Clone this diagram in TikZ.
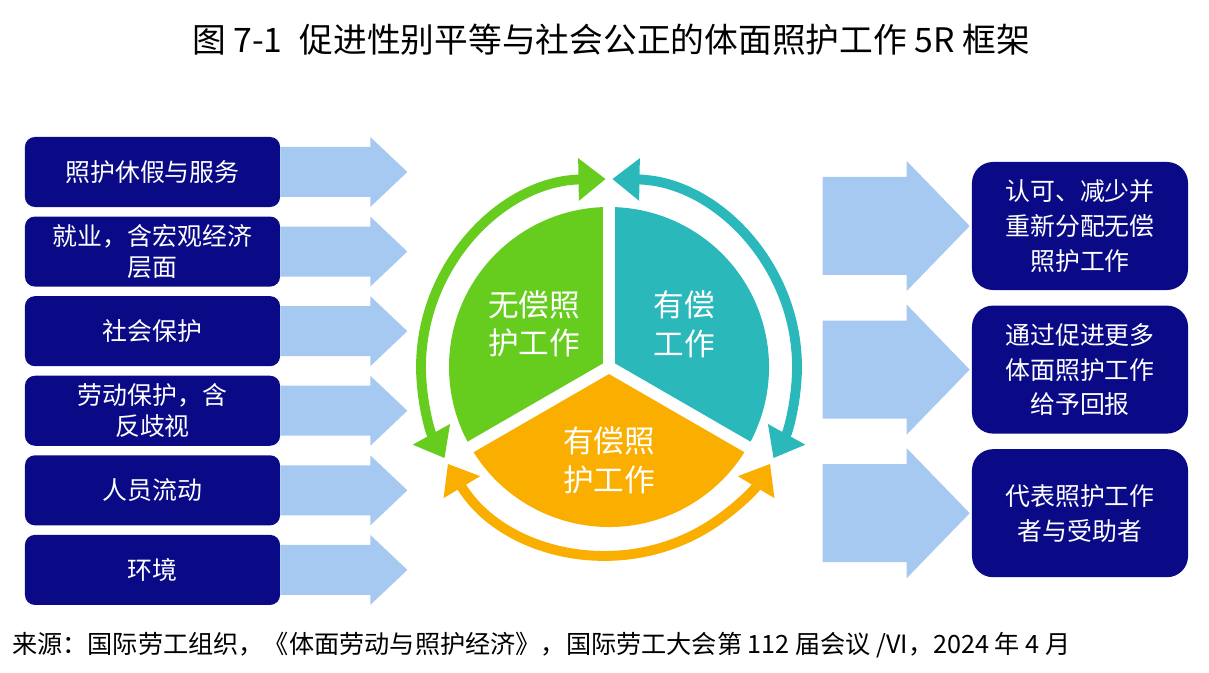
\documentclass[tikz,border=0pt]{standalone}
\usepackage{fontspec}
\setmainfont{Noto Sans CJK SC}
\usetikzlibrary{arrows.meta,positioning,calc}
\definecolor{frNavy}{RGB}{10,10,135}
\definecolor{frFlow}{RGB}{166,201,242}
\definecolor{frGreen}{RGB}{102,204,30}
\definecolor{frTeal}{RGB}{43,184,186}
\definecolor{frOrange}{RGB}{249,174,0}

\begin{document}
\begin{tikzpicture}[x=0.025cm,y=0.025cm,
    lbox/.style={fill=frNavy,rounded corners=7pt,minimum width=6.375cm,minimum height=1.75cm,align=center,text=white,font=\fontsize{17.7}{21.8}\selectfont},
    rbox/.style={fill=frNavy,rounded corners=15pt,minimum width=5.4cm,minimum height=3.2cm,align=center,text=white,font=\fontsize{17.7}{24.8}\selectfont},
    flow/.style={fill=frFlow},
    sector/.style={align=center,text=white,font=\fontsize{21.8}{27.5}\selectfont},
    ring/.style={line width=7pt,<->,>={Triangle[length=0.68cm,width=1.02cm]}}]
    \useasboundingbox (0,0) rectangle (1209,672);
    % Title
    \node[font=\fontsize{24}{29}\selectfont] (title) at (611,632) {图 7-1\hspace{0.5em}促进性别平等与社会公正的体面照护工作 5R 框架};
    % Left column
    \node[lbox] at (152.5,500) (leave) {照护休假与服务};
    \node[lbox,below=0.225cm of leave] (jobs) {就业，含宏观经济\\层面};
    \node[lbox,below=0.225cm of jobs] (social) {社会保护};
    \node[lbox,below=0.225cm of social] (labour) {劳动保护，含\\反歧视};
    \node[lbox,below=0.225cm of labour] (mobil) {人员流动};
    \node[lbox,below=0.225cm of mobil] (envir) {环境};
    \foreach \n in {leave,jobs,social,labour,mobil,envir}
        \fill[flow] ([yshift=0.625cm]\n.east) -- ++(90,0) -- ++(0,10) -- ++(37,-35) -- ++(-37,-35) -- ++(0,10) -- ++(-90,0) -- cycle;
    % Right column
    \node[rbox] at (1080,446) (recog) {认可、减少并\\重新分配无偿\\照护工作};
    \node[rbox,below=0.375cm of recog] (reward) {通过促进更多\\体面照护工作\\给予回报};
    \node[rbox,below=0.375cm of reward] (repr) {代表照护工作\\者与受助者};
    \foreach \n in {recog,reward,repr}
        \fill[flow] ([xshift=-0.05cm]\n.west) -- ++(-63,65) -- ++(0,-16) -- ++(-84,0) -- ++(0,-98) -- ++(84,0) -- ++(0,-16) -- cycle;
    % Centre pie
    \coordinate (hub) at (609,305);
    \fill[frGreen] (hub) -- ($(hub)+(90:160)$) arc[start angle=90,end angle=210,radius=160] -- cycle;
    \fill[frTeal] (hub) -- ($(hub)+(-30:160)$) arc[start angle=-30,end angle=90,radius=160] -- cycle;
    \fill[frOrange] (hub) -- ($(hub)+(210:160)$) arc[start angle=210,end angle=330,radius=160] -- cycle;
    \foreach \a in {90,210,330}
        \draw[white,line width=8.5pt] (hub) -- ++(\a:170);
    \node[sector] at (534,348) (unpaid) {无偿照\\护工作};
    \node[sector] at (684,348) (paid) {有偿\\工作};
    \node[sector] at (609,212) (paidcare) {有偿照\\护工作};
    % Ring arrows
    \draw[ring,frGreen] ($(hub)+(91:188)$) arc[start angle=91,end angle=209,radius=188];
    \draw[ring,frTeal] ($(hub)+(89:188)$) arc[start angle=89,end angle=-29,radius=188];
    \draw[ring,frOrange] ($(hub)+(211:188)$) arc[start angle=211,end angle=329,radius=188];
    % Source
    \node[anchor=west,inner sep=0,font=\fontsize{17.9}{21}\selectfont] at (12,27) (source) {来源：国际劳工组织，《体面劳动与照护经济》，国际劳工大会第 112 届会议 /VI，2024 年 4 月};
\end{tikzpicture}
\end{document}
